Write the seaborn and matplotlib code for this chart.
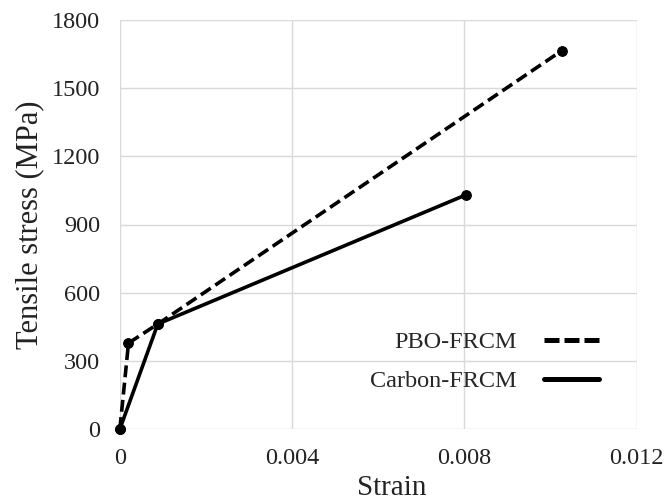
import matplotlib
matplotlib.use("Agg")
import matplotlib.pyplot as plt
from matplotlib.lines import Line2D
import seaborn as sns
import pandas as pd

pbo_strain = [0.0, 0.0002, 0.00088, 0.01026]
pbo_stress = [0, 378, 462, 1665]
carbon_strain = [0.0, 0.00088, 0.00803]
carbon_stress = [0, 462, 1030]
x_ticks = [0, 0.004, 0.008, 0.012]
x_ticklabels = ["0", "0.004", "0.008", "0.012"]
y_ticks = [0, 300, 600, 900, 1200, 1500, 1800]

sns.set_theme(style="white")
plt.rcParams['font.family'] = ['Liberation Serif', 'DejaVu Serif']

df = pd.concat([
    pd.DataFrame({"Strain": pbo_strain, "Stress": pbo_stress, "Series": "PBO-FRCM"}),
    pd.DataFrame({"Strain": carbon_strain, "Stress": carbon_stress, "Series": "Carbon-FRCM"}),
])

fig = plt.figure(figsize=(6.66, 5), dpi=100)
ax = fig.add_axes([0.18, 0.142, 0.776, 0.818])

for name, ls in [("PBO-FRCM", (0, (3.3, 1.5))), ("Carbon-FRCM", "-")]:
    sub = df[df.Series == name]
    sns.lineplot(data=sub, x="Strain", y="Stress", ax=ax, color="black",
                 linewidth=2.6, linestyle=ls, marker="o", markersize=7,
                 markeredgecolor="black", label=name, sort=False, estimator=None)

ax.set_xlim(0, 0.012)
ax.set_ylim(0, 1800)
ax.set_xticks(x_ticks)
ax.set_xticklabels(x_ticklabels)
ax.set_yticks(y_ticks)
ax.grid(True, color="#d9d9d9", linewidth=1.0)
ax.set_axisbelow(True)
for s in ax.spines.values():
    s.set_visible(False)
for line in ax.lines:
    line.set_clip_on(False)
ax.tick_params(axis="both", labelsize=17.5, length=0, pad=14, colors="#222222")
ax.set_xlabel("Strain", fontsize=21, color="#222222")
ax.xaxis.set_label_coords(0.526, -0.112)
ax.set_ylabel("Tensile stress (MPa)", fontsize=22, labelpad=6, color="#222222")

hs = [Line2D([], [], color="black", linewidth=3.6, linestyle=(0, (3.0, 1.0))),
      Line2D([], [], color="black", linewidth=3.6, linestyle="-")]
ax.legend(hs, ["PBO-FRCM", "Carbon-FRCM"], loc="lower right", bbox_to_anchor=(0.928, 0.09),
          frameon=False, markerfirst=False, fontsize=17.5, handlelength=2.3,
          labelspacing=0.7, handletextpad=1.1, borderpad=0, borderaxespad=0)

fig.savefig("out.png", dpi=100)
